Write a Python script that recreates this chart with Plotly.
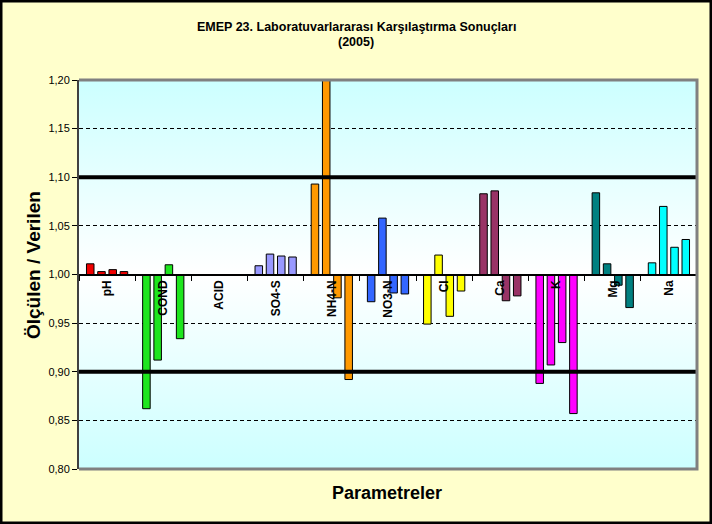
import base64
import plotly.graph_objects as go

# EMEP 23rd interlaboratory comparison, measured / reference ratios
CATEGORIES = ["pH", "COND", "ACID", "SO4-S", "NH4-N", "NO3-N", "Cl", "Ca", "K", "Mg", "Na"]
COLORS = ["#F00000", "#1EE61E", "#FFFFFF", "#9999FF", "#FF9900", "#3366FF",
          "#FFFF00", "#993366", "#FF00FF", "#008080", "#00FFFF"]

SAMPLE_1 = [1.011, 0.862, None, 1.009, 1.093, 0.972, 0.949, 1.083, 0.888, 1.084, 1.012]
SAMPLE_2 = [1.003, 0.912, None, 1.021, 1.250, 1.058, 1.020, 1.086, 0.907, 1.011, 1.070]
SAMPLE_3 = [1.005, 1.010, None, 1.019, 0.976, 0.981, 0.957, 0.973, 0.930, 0.989, 1.028]
SAMPLE_4 = [1.003, 0.934, None, 1.018, 0.892, 0.980, 0.983, 0.978, 0.857, 0.966, 1.036]

LIMITS = [0.90, 1.10]
BASE = 1.0

W, H = 712, 524
L, R, T, B = 79, 15, 80, 55
PW, PH = W - L - R, H - T - B

# plot-area gradient (cyan -> white -> cyan) as an svg background image
svg = ('<svg xmlns="http://www.w3.org/2000/svg" width="10" height="100" viewBox="0 0 10 100" '
       'preserveAspectRatio="none"><defs><linearGradient id="g" x1="0" y1="0" x2="0" y2="1">'
       '<stop offset="0" stop-color="#CCFFFF"/><stop offset="0.5" stop-color="#FFFFFF"/>'
       '<stop offset="1" stop-color="#CCFFFF"/></linearGradient></defs>'
       '<rect width="10" height="100" fill="url(#g)"/></svg>')
bg_src = "data:image/svg+xml;base64," + base64.b64encode(svg.encode()).decode()

fig = go.Figure()
for vals in [SAMPLE_1, SAMPLE_2, SAMPLE_3, SAMPLE_4]:
    fig.add_trace(go.Bar(
        x=CATEGORIES,
        y=[None if v is None else v - BASE for v in vals],
        base=BASE,
        marker=dict(color=COLORS, line=dict(color="black", width=1)),
        showlegend=False, hoverinfo="skip"))

for lim in LIMITS:
    fig.add_hline(y=lim, line_color="black", line_width=4, layer="above")

# plot frame (top, right, bottom) in grey
fig.add_shape(type="path", xref="paper", yref="paper",
              path="M 0,1 L 1,1 L 1,0 L 0,0", line=dict(color="#808080", width=3), layer="above")
# outer black border
fig.add_shape(type="rect", xref="paper", yref="paper",
              x0=-L / PW, x1=1 + R / PW, y0=-B / PH, y1=1 + T / PH,
              line=dict(color="black", width=5), layer="above")


def px(x):
    return (x - L) / PW


def py(y):
    return 1 - (y - T) / PH


fig.add_annotation(text="<b>EMEP 23. Laboratuvarlararası Karşılaştırma Sonuçları</b>",
                   xref="paper", yref="paper", x=px(356), y=py(27), xanchor="center", yanchor="middle",
                   showarrow=False, font=dict(family="Arial", size=12.5, color="black"))
fig.add_annotation(text="<b>(2005)</b>",
                   xref="paper", yref="paper", x=px(356), y=py(42), xanchor="center", yanchor="middle",
                   showarrow=False, font=dict(family="Arial", size=12.5, color="black"))
fig.add_annotation(text="<b>Ölçülen / Verilen</b>", textangle=-90,
                   xref="paper", yref="paper", x=px(33), y=py(265), xanchor="center", yanchor="middle",
                   showarrow=False, font=dict(family="Arial", size=19, color="black"))
fig.add_annotation(text="<b>Parametreler</b>",
                   xref="paper", yref="paper", x=px(387), y=py(493), xanchor="center", yanchor="middle",
                   showarrow=False, font=dict(family="Arial", size=18, color="black"))

fig.update_layout(
    width=W, height=H, margin=dict(l=L, r=R, t=T, b=B),
    paper_bgcolor="#FFFFCC", plot_bgcolor="rgba(0,0,0,0)",
    barmode="group", bargap=0.2, bargroupgap=0.33,
    separators=",.",
    font=dict(family="Arial", color="black"),
    images=[dict(source=bg_src, xref="paper", yref="paper", x=0, y=1, sizex=1, sizey=1,
                 xanchor="left", yanchor="top", sizing="stretch", layer="below")],
    xaxis=dict(type="category", anchor="free", position=0.5,
               showline=True, linecolor="black", linewidth=2,
               ticks="outside", tickson="boundaries", ticklen=5, tickcolor="black",
               tickangle=-90, tickfont=dict(family="Arial", size=12, weight="bold"),
               showgrid=False, zeroline=False),
    yaxis=dict(range=[0.8, 1.2], dtick=0.05, tickformat=".2f",
               showline=True, linecolor="#404040", linewidth=2,
               ticks="outside", ticklen=5, tickcolor="black",
               tickfont=dict(family="Arial", size=11, color="black"),
               showgrid=True, gridcolor="black", gridwidth=1, griddash="4px,3px",
               zeroline=False),
)

fig.write_html("out.html", config={"displayModeBar": False},
               post_script="document.body.style.margin='0';")
